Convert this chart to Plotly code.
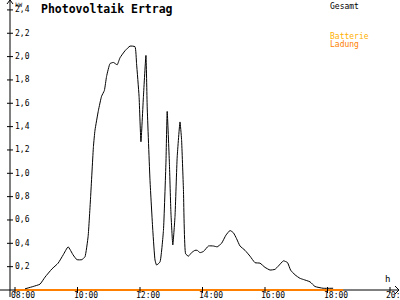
import plotly.graph_objects as go

# Data: time in hours, power in kW
times = [8.32, 8.58, 8.80, 8.96, 9.18, 9.38, 9.54, 9.70, 9.86, 9.98, 10.14, 10.24, 10.34, 10.42,
         10.51, 10.56, 10.67, 10.77, 10.86, 10.93, 11.04, 11.15, 11.27, 11.36, 11.52, 11.68,
         11.84, 11.89, 11.97, 12.03, 12.11, 12.19, 12.23, 12.32, 12.41, 12.48, 12.53, 12.64,
         12.75, 12.83, 12.87, 12.94, 12.99, 13.05, 13.12, 13.19, 13.28, 13.33, 13.39, 13.46,
         13.55, 13.65, 13.76, 13.83, 13.92, 14.03, 14.19, 14.35, 14.47, 14.61, 14.75, 14.88,
         14.99, 15.09, 15.20, 15.36, 15.52, 15.68, 15.84, 16.00, 16.16, 16.32, 16.43, 16.59,
         16.72, 16.82, 16.96, 17.12, 17.23, 17.44, 17.60, 17.86, 18.18]
gesamt = [0.01, 0.03, 0.05, 0.11, 0.18, 0.23, 0.30, 0.37, 0.30, 0.26, 0.26, 0.285, 0.46, 0.80,
          1.23, 1.37, 1.54, 1.66, 1.71, 1.83, 1.94, 1.95, 1.93, 1.99, 2.05, 2.09,
          2.085, 1.94, 1.66, 1.27, 1.66, 2.01, 1.57, 0.94, 0.51, 0.257, 0.214, 0.24,
          0.51, 1.09, 1.53, 1.09, 0.66, 0.386, 0.63, 1.14, 1.44, 1.29, 0.86, 0.31,
          0.29, 0.32, 0.34, 0.34, 0.32, 0.33, 0.377, 0.377, 0.37, 0.40, 0.47, 0.51,
          0.49, 0.44, 0.377, 0.34, 0.29, 0.234, 0.23, 0.194, 0.171, 0.177, 0.206, 0.25,
          0.235, 0.17, 0.13, 0.10, 0.09, 0.07, 0.03, 0.015, 0.015]
ladung_t = [8.0, 18.5]
ladung_v = [0.0, 0.0]

y_ticks = [0.2, 0.4, 0.6, 0.8, 1.0, 1.2, 1.4, 1.6, 1.8, 2.0, 2.2, 2.4]
y_labels = ["0,2", "0,4", "0,6", "0,8", "1,0", "1,2", "1,4", "1,6", "1,8", "2,0", "2,2", "2,4"]
x_ticks = [8, 10, 12, 14, 16, 18, 20]
x_labels = ["08:00", "10:00", "12:00", "14:00", "16:00", "18:00", "20:00"]

# pixel helpers (for layout only)
PXH = 31.25   # px per hour
PXV = 116.7   # px per kW
def tx(px):
    return 8 + (px - 15) / PXH
def vy(py):
    return (290 - py) / PXV

FONT = "DejaVu Sans Mono"
fig = go.Figure()
fig.add_trace(go.Scatter(x=ladung_t, y=ladung_v, mode="lines",
                         line=dict(color="#FF8000", width=2), hoverinfo="skip"))
fig.add_trace(go.Scatter(x=times, y=gesamt, mode="lines",
                         line=dict(color="black", width=1, shape="spline", smoothing=0.4),
                         hoverinfo="skip"))

shapes = []
ax = tx(10)
# y axis
shapes.append(dict(type="line", x0=ax, x1=ax, y0=vy(297), y1=vy(0), line=dict(color="black", width=1)))
shapes.append(dict(type="path", path=f"M {tx(7)} {vy(4)} L {ax} {vy(0)} L {tx(13)} {vy(4)}",
                   line=dict(color="black", width=1)))
# x axis (under orange)
shapes.append(dict(type="line", x0=tx(0), x1=tx(399), y0=0, y1=0, line=dict(color="black", width=1), layer="below"))
shapes.append(dict(type="path", path=f"M {tx(395)} {vy(286)} L {tx(399)} 0 L {tx(395)} {vy(294)}",
                   line=dict(color="black", width=1)))
for v in y_ticks:
    shapes.append(dict(type="line", x0=tx(7), x1=tx(13), y0=v, y1=v, line=dict(color="black", width=1)))
for t in x_ticks:
    shapes.append(dict(type="line", x0=t, x1=t, y0=vy(287), y1=vy(293), line=dict(color="black", width=1)))

ann = []
for v, l in zip(y_ticks, y_labels):
    ann.append(dict(x=tx(14), y=v, text=l, showarrow=False, xanchor="left", yanchor="middle",
                    font=dict(family=FONT, size=8, color="black"), borderpad=0))
for t, l in zip(x_ticks, x_labels):
    ann.append(dict(x=t, y=vy(295.5), text=l, showarrow=False, xanchor="left", yanchor="middle",
                    xshift=-5, font=dict(family=FONT, size=8, color="black"), borderpad=0))
ann.append(dict(x=tx(14), y=vy(4), text="kW", showarrow=False, xanchor="left", yanchor="middle",
                font=dict(family=FONT, size=6, color="black"), borderpad=0))
ann.append(dict(x=tx(384), y=vy(285), text="h", showarrow=False, xanchor="left", yanchor="bottom",
                font=dict(family=FONT, size=9, color="black"), borderpad=0))
ann.append(dict(x=40/400, y=1 - 1/300, xref="paper", yref="paper", text="<b>Photovoltaik Ertrag</b>",
                showarrow=False, xanchor="left", yanchor="top",
                font=dict(family=FONT, size=11.5, color="black"), borderpad=0))
ann.append(dict(x=329/400, y=1 - 1/300, xref="paper", yref="paper", text="Gesamt",
                showarrow=False, xanchor="left", yanchor="top",
                font=dict(family=FONT, size=8, color="black"), borderpad=0))
ann.append(dict(x=329/400, y=1 - 31/300, xref="paper", yref="paper", text="Batterie",
                showarrow=False, xanchor="left", yanchor="top",
                font=dict(family=FONT, size=8, color="#FFB000"), borderpad=0))
ann.append(dict(x=329/400, y=1 - 39/300, xref="paper", yref="paper", text="Ladung",
                showarrow=False, xanchor="left", yanchor="top",
                font=dict(family=FONT, size=8, color="#FF8000"), borderpad=0))

fig.update_layout(
    width=400, height=300, margin=dict(l=0, r=0, t=0, b=0),
    paper_bgcolor="white", plot_bgcolor="white", showlegend=False,
    xaxis=dict(range=[tx(0), tx(400)], visible=False, fixedrange=True),
    yaxis=dict(range=[vy(300), vy(0)], visible=False, fixedrange=True),
    shapes=shapes, annotations=ann,
)
fig.write_html("out.html", config={"displayModeBar": False})
